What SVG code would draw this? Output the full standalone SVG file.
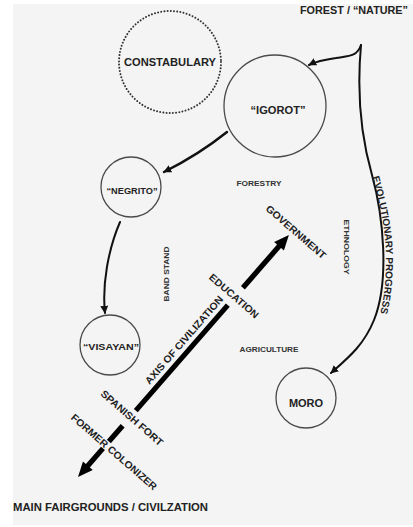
<svg xmlns="http://www.w3.org/2000/svg" width="413" height="527" viewBox="0 0 413 527">
<style>
text{font-family:"Liberation Sans",Arial,sans-serif;font-weight:bold;fill:#222}
.big{font-size:10.5px}
.mid{font-size:10px}
.sm{font-size:8px;fill:#333}
.node{fill:none;stroke:#4a4a4a;stroke-width:1.3}
.dot{fill:none;stroke:#333;stroke-width:2;stroke-dasharray:0.01 3.2;stroke-linecap:round}
.arr{fill:none;stroke:#111;stroke-width:2;stroke-linecap:round}
.c{text-anchor:middle}
</style>
<defs>
<marker id="ah" viewBox="0 0 10 10" refX="9" refY="5" markerWidth="8" markerHeight="8" markerUnits="userSpaceOnUse" orient="auto">
<path d="M0,0 L10,5 L0,10 Z" fill="#111"/>
</marker>
</defs>
<rect x="13" y="4" width="400" height="521" fill="#f4f4f4"/>

<g id="connectors">
<path class="arr" d="M361,45 C357,57 348,56 336,58 C322,60 315,62 309,65" marker-end="url(#ah)"/>
<path class="arr" d="M361,45 C356,100 362,140 372,175 C383,215 390,280 374,320 C364,345 348,358 331,373" marker-end="url(#ah)"/>
<path class="arr" style="stroke-width:2.5" d="M227,132 C207,148 186,161 164,172" marker-end="url(#ah)"/>
<path class="arr" d="M120,222 C108,250 102,285 105,313" marker-end="url(#ah)"/>
<g id="axis" transform="translate(78,477) rotate(-48.93)" fill="#000">
<polygon points="0,0 15,-6.5 15,6.5"/>
<rect x="14" y="-2.6" width="24" height="5.2"/>
<rect x="47" y="-2.6" width="21" height="5.2"/>
<rect x="88" y="-2.6" width="140" height="5.2"/>
<rect x="251" y="-2.6" width="56" height="5.2"/>
<polygon points="321,0 306,-6.5 306,6.5"/>
</g>
</g>

<g id="forest"><text class="big" x="408" y="13.5" text-anchor="end" textLength="108" lengthAdjust="spacingAndGlyphs">FOREST / “NATURE”</text></g>
<g id="constabulary">
<circle class="dot" cx="170" cy="62" r="51"/>
<text class="c" x="170" y="66" style="font-size:11px" textLength="92" lengthAdjust="spacingAndGlyphs">CONSTABULARY</text>
</g>
<g id="igorot">
<circle class="node" cx="275" cy="106" r="51"/>
<text class="c" x="278" y="114" style="font-size:11px" textLength="55" lengthAdjust="spacingAndGlyphs">“IGOROT”</text>
</g>
<g id="negrito">
<circle class="node" cx="131" cy="187" r="30"/>
<text class="c" x="132" y="193.5" style="font-size:9.5px" textLength="51" lengthAdjust="spacingAndGlyphs">“NEGRITO”</text>
</g>
<g id="visayan">
<circle class="node" cx="110" cy="345" r="30"/>
<text class="c" x="111" y="349.5" style="font-size:9.5px" textLength="56" lengthAdjust="spacingAndGlyphs">“VISAYAN”</text>
</g>
<g id="moro">
<circle class="node" cx="306" cy="398" r="30"/>
<text class="c" x="306" y="407" style="font-size:11px">MORO</text>
</g>

<g id="forestry"><text class="sm c" x="259" y="186" textLength="45" lengthAdjust="spacingAndGlyphs">FORESTRY</text></g>
<g id="bandstand"><text class="sm c" transform="translate(166,274) rotate(-90)" x="0" y="3" textLength="55" lengthAdjust="spacingAndGlyphs">BAND STAND</text></g>
<g id="ethnology"><text class="sm c" transform="translate(347,247) rotate(90)" x="0" y="3" textLength="55" lengthAdjust="spacingAndGlyphs">ETHNOLOGY</text></g>
<g id="agriculture"><text class="sm c" x="269" y="352" textLength="59" lengthAdjust="spacingAndGlyphs">AGRICULTURE</text></g>

<g id="government"><text class="mid c" transform="translate(296,232) rotate(41)" x="0" y="3.5" textLength="76" lengthAdjust="spacingAndGlyphs">GOVERNMENT</text></g>
<g id="education"><text class="mid c" transform="translate(234,296) rotate(41)" x="0" y="3.5" textLength="62" lengthAdjust="spacingAndGlyphs">EDUCATION</text></g>
<g id="axislabel"><text class="mid c" transform="translate(184,340) rotate(-49)" x="0" y="3.5" textLength="113" lengthAdjust="spacingAndGlyphs">AXIS OF CIVILIZATION</text></g>
<g id="spanishfort"><text class="mid c" transform="translate(132,418) rotate(41)" x="0" y="3.5" textLength="79" lengthAdjust="spacingAndGlyphs">SPANISH FORT</text></g>
<g id="formercolonizer"><text class="mid c" transform="translate(114,452) rotate(41)" x="0" y="3.5" textLength="110" lengthAdjust="spacingAndGlyphs">FORMER COLONIZER</text></g>
<g id="evolution">
<path id="evp" d="M372,176 C380,205 386,232 386,258 C386,282 384,300 379,318" fill="none"/>
<text class="mid"><textPath href="#evp" startOffset="1" textLength="138" lengthAdjust="spacingAndGlyphs">EVOLUTIONARY PROGRESS</textPath></text>
</g>
<g id="main"><text class="big" x="13" y="510.5" textLength="195" lengthAdjust="spacingAndGlyphs">MAIN FAIRGROUNDS / CIVILZATION</text></g>
</svg>
